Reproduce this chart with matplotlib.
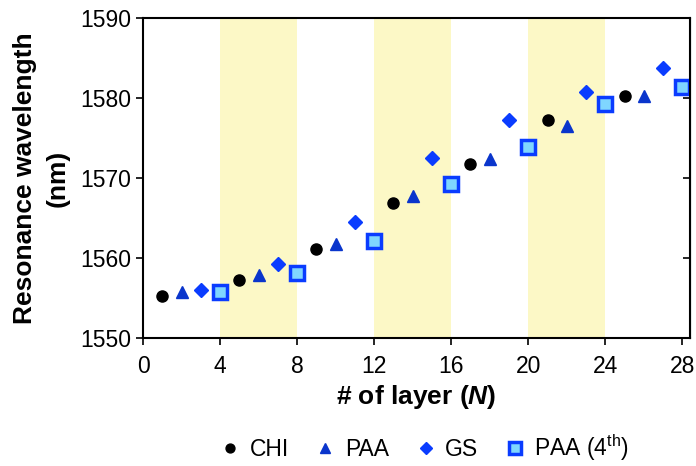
import matplotlib
matplotlib.use("Agg")
import matplotlib.pyplot as plt

plt.rcParams['font.family'] = ['Liberation Sans', 'DejaVu Sans']
plt.rcParams['mathtext.fontset'] = 'custom'
plt.rcParams['mathtext.rm'] = 'Liberation Sans'
plt.rcParams['mathtext.it'] = 'Liberation Sans:italic'
plt.rcParams['mathtext.bf'] = 'Liberation Sans:bold'
plt.rcParams['mathtext.bfit'] = 'Liberation Sans:italic:bold'

# resonance wavelength (nm) after each deposited layer
chi_n = [1, 5, 9, 13, 17, 21, 25]
chi_wl = [1555.3, 1557.3, 1561.1, 1566.9, 1571.8, 1577.2, 1580.3]
paa_n = [2, 6, 10, 14, 18, 22, 26]
paa_wl = [1555.7, 1557.9, 1561.8, 1567.7, 1572.4, 1576.5, 1580.3]
gs_n = [3, 7, 11, 15, 19, 23, 27]
gs_wl = [1556.0, 1559.2, 1564.5, 1572.5, 1577.3, 1580.8, 1583.8]
paa4_n = [4, 8, 12, 16, 20, 24, 28]
paa4_wl = [1555.8, 1558.1, 1562.1, 1569.2, 1573.9, 1579.3, 1581.4]

shaded = [(4, 8), (12, 16), (20, 24)]
xticks = [0, 4, 8, 12, 16, 20, 24, 28]
yticks = [1550, 1560, 1570, 1580, 1590]

fig = plt.figure(figsize=(6.96, 4.66), dpi=100)
ax = fig.add_axes([0.2055, 0.2747, 0.786, 0.6867])

for a, b in shaded:
    ax.axvspan(a, b, color='#fcf8c6', zorder=0, lw=0)

ax.plot(chi_n, chi_wl, 'o', color='black', ms=8, ls='none', label='CHI')
ax.plot(paa_n, paa_wl, '^', color='#0a35cc', ms=9, ls='none', label='PAA')
ax.plot(gs_n, gs_wl, 'D', color='#0a3cff', ms=7.5, ls='none', label='GS')
ax.plot(paa4_n, paa4_wl, 's', mfc='#7fd6ff', mec='#0a3cff', mew=2.5, ms=10,
        ls='none', label='PAA (4$^{\\mathrm{th}}$)')

ax.set_xlim(0, 28.4)
ax.set_ylim(1550, 1590)
ax.set_xticks(xticks)
ax.set_yticks(yticks)
ax.tick_params(axis='both', labelsize=16.5, width=1.2, length=5, direction='out')
ax.tick_params(axis='x', pad=7)
for s in ax.spines.values():
    s.set_linewidth(1.5)

# right-hand ticks point inward
ax2 = ax.secondary_yaxis('right')
ax2.set_yticks(yticks)
ax2.tick_params(direction='in', length=5, width=1.2, labelright=False)

ax.set_xlabel('# of layer ($\\mathbfit{N}$)', fontsize=19, fontweight='bold', labelpad=4)
ax.set_ylabel('Resonance wavelength\n(nm)', fontsize=19, fontweight='bold',
              linespacing=1.45, labelpad=7.5)

fig.legend(loc='center', bbox_to_anchor=(0.609, 0.04), ncol=4, frameon=False,
           fontsize=16.5, handletextpad=0.35, columnspacing=1.1, handlelength=1.0,
           markerscale=0.8)

fig.savefig('out.png', dpi=100)
